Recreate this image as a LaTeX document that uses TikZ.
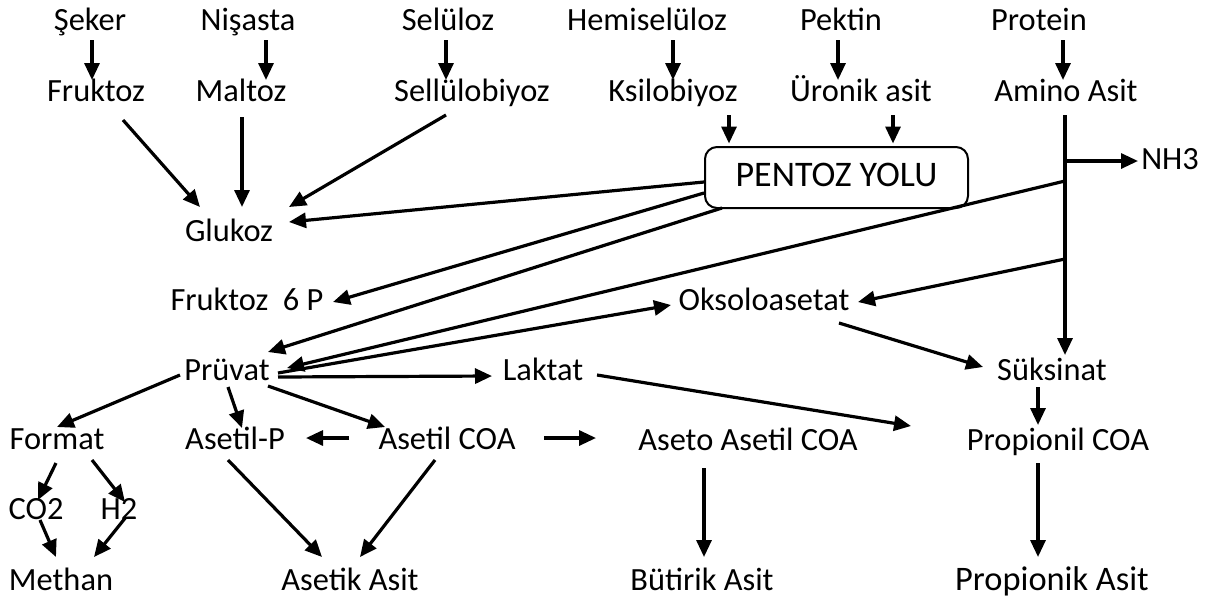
\documentclass[tikz,border=0pt]{standalone}
\usepackage{fontspec}
\setmainfont{Carlito}
\usetikzlibrary{arrows.meta}
\begin{document}
\begin{tikzpicture}[x=0.5pt,y=-0.5pt,
  lbl/.style={inner sep=0pt,outer sep=0pt,text height=0.85em,text depth=0pt,font=\fontsize{16.2}{19}\selectfont},
  big/.style={lbl,font=\fontsize{17.2}{20}\selectfont},
  arr/.style={line width=1.6pt,-{Triangle[length=8.5pt,width=7.5pt]}},
  boxst/.style={draw,line width=1pt,rounded corners=6pt,minimum width=131.5pt,minimum height=30.5pt,inner sep=0pt,text height=0.85em,text depth=0pt,font=\fontsize{18}{21}\selectfont}]
\useasboundingbox (0,0) rectangle (1210,601);
% row 1
\node[lbl] (seker) at (90,22) {Şeker};
\node[lbl] (nisasta) at (248,22) {Nişasta};
\node[lbl] (seluloz) at (448,22) {Selüloz};
\node[lbl] (hemi) at (647,22) {Hemiselüloz};
\node[lbl] (pektin) at (841,22) {Pektin};
\node[lbl] (protein) at (1039,22) {Protein};
% row 2
\node[lbl] (fruktoz) at (96,93) {Fruktoz};
\node[lbl] (maltoz) at (241,93) {Maltoz};
\node[lbl] (sello) at (472,93) {Sellülobiyoz};
\node[lbl] (ksilo) at (673,93) {Ksilobiyoz};
\node[lbl] (uronik) at (861,93) {Üronik asit};
\node[lbl] (amino) at (1066,93) {Amino Asit};
\node[boxst] (box) at (836.5,177.5) {PENTOZ YOLU};
\node[lbl] (nh3) at (1170,161) {NH3};
\node[lbl] (glukoz) at (229,233) {Glukoz};
\node[lbl] (f6p) at (247,302) {Fruktoz~~6 P};
\node[lbl] (okso) at (764,302) {Oksoloasetat};
\node[lbl] (pruvat) at (227,372) {Prüvat};
\node[lbl] (laktat) at (543,372) {Laktat};
\node[lbl] (suksinat) at (1052,372) {Süksinat};
\node[lbl] (format) at (57,441) {Format};
\node[lbl] (asetilp) at (235,441) {Asetil-P};
\node[lbl] (asetilcoa) at (447,441) {Asetil COA};
\node[lbl] (aseto) at (748,442) {Aseto Asetil COA};
\node[lbl] (propcoa) at (1058,442) {Propionil COA};
\node[lbl] (co2) at (36,511) {CO2};
\node[lbl] (h2) at (119,511) {H2};
\node[lbl] (methan) at (61,582) {Methan};
\node[lbl] (asetik) at (350,582) {Asetik Asit};
\node[lbl] (butirik) at (702,582) {Bütirik Asit};
\node[big] (propionik) at (1052,582) {Propionik Asit};
% amino acid line branch points
\coordinate (a1) at (1065,161);
\coordinate (a2) at (1065,181);
\coordinate (a3) at (1065,259);
% arrows row1 -> row2
\draw[arr] ([shift={(2,18)}]seker.center) -- ([shift={(-4,-13)}]fruktoz.center);
\draw[arr] ([shift={(18,18)}]nisasta.center) -- ([shift={(25,-13)}]maltoz.center);
\draw[arr] ([shift={(-2,18)}]seluloz.center) -- ([shift={(-26,-13)}]sello.center);
\draw[arr] ([shift={(26,18)}]hemi.center) -- ([shift={(0,-13)}]ksilo.center);
\draw[arr] ([shift={(-3,18)}]pektin.center) -- ([shift={(-23,-13)}]uronik.center);
\draw[arr] ([shift={(24,18)}]protein.center) -- ([shift={(-3,-13)}]amino.center);
% into pentoz
\draw[arr] ([shift={(56,22)}]ksilo.center) -- ([shift={(-107.5,-34)}]box.center);
\draw[arr] ([shift={(32,22)}]uronik.center) -- ([shift={(56.5,-34)}]box.center);
% amino acid line
\draw[arr] ([shift={(-1,22)}]amino.center) -- ([shift={(13,-17)}]suksinat.center);
\draw[arr] (a1) -- ([shift={(-32,0)}]nh3.center);
% into glukoz
\draw[arr] ([shift={(27,27)}]fruktoz.center) -- ([shift={(-29,-26)}]glukoz.center);
\draw[arr] ([shift={(1,24)}]maltoz.center) -- ([shift={(13,-26)}]glukoz.center);
\draw[arr] ([shift={(-26,22)}]sello.center) -- ([shift={(60,-26)}]glukoz.center);
\draw[arr] ([shift={(0,4.5)}]box.west) -- ([shift={(60,-11)}]glukoz.center);
% from pentoz
\draw[arr] ([shift={(0,15.5)}]box.west) -- ([shift={(86,0)}]f6p.center);
\draw[arr] ([shift={(-114.5,30.5)}]box.center) -- ([shift={(41,-20)}]pruvat.center);
\draw[arr] (a2) -- ([shift={(60,-4)}]pruvat.center);
\draw[arr] ([shift={(51,1)}]pruvat.center) -- ([shift={(-93,3)}]okso.center);
\draw[arr] (a3) -- ([shift={(94,0)}]okso.center);
\draw[arr] ([shift={(51,5)}]pruvat.center) -- ([shift={(-51,4)}]laktat.center);
\draw[arr] ([shift={(54,3)}]laktat.center) -- ([shift={(-147,-16)}]propcoa.center);
\draw[arr] ([shift={(75,21)}]okso.center) -- ([shift={(-69,-5)}]suksinat.center);
\draw[arr] ([shift={(-14,15)}]suksinat.center) -- ([shift={(-20,-17)}]propcoa.center);
% from pruvat
\draw[arr] ([shift={(-47,3)}]pruvat.center) -- ([shift={(0,-14)}]format.center);
\draw[arr] ([shift={(1,15)}]pruvat.center) -- ([shift={(7,-13)}]asetilp.center);
\draw[arr] ([shift={(41,14)}]pruvat.center) -- ([shift={(-62,-14)}]asetilcoa.center);
\draw[arr] ([shift={(-98,-3)}]asetilcoa.center) -- ([shift={(71,-3)}]asetilp.center);
\draw[arr] ([shift={(97,-3)}]asetilcoa.center) -- ([shift={(-152,-4)}]aseto.center);
% bottom
\draw[arr] ([shift={(-1,22)}]format.center) -- ([shift={(2,-11)}]co2.center);
\draw[arr] ([shift={(35,19)}]format.center) -- ([shift={(6,-9)}]h2.center);
\draw[arr] ([shift={(4,9)}]co2.center) -- ([shift={(-5,-25)}]methan.center);
\draw[arr] ([shift={(7,6)}]h2.center) -- ([shift={(33,-25)}]methan.center);
\draw[arr] ([shift={(-7,19)}]asetilp.center) -- ([shift={(-28,-25)}]asetik.center);
\draw[arr] ([shift={(-12,19)}]asetilcoa.center) -- ([shift={(10,-25)}]asetik.center);
\draw[arr] ([shift={(-44,26)}]aseto.center) -- ([shift={(2,-25)}]butirik.center);
\draw[arr] ([shift={(-20,21)}]propcoa.center) -- ([shift={(-14,-25)}]propionik.center);
\end{tikzpicture}
\end{document}
